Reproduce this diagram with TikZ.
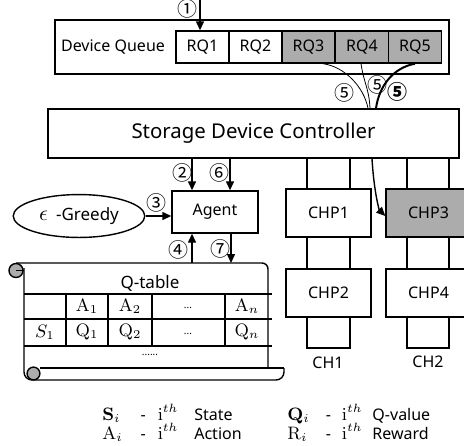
\documentclass[tikz,border=0pt]{standalone}
\usepackage[no-math]{fontspec}
\setmainfont{Noto Sans}
\newfontfamily\circfont{Noto Sans CJK SC}
\usetikzlibrary{arrows.meta, positioning, shapes.geometric}

\begin{document}
\begin{tikzpicture}[x=0.5pt, y=-0.5pt,
    box/.style={draw, line width=0.7pt, fill=white, align=center, font=\fontsize{8}{9.6}\selectfont},
    rqbox/.style={box, minimum width=26.5pt, minimum height=16pt, inner sep=0pt},
    chpbox/.style={box, minimum width=42.5pt, minimum height=24pt},
    busy/.style={fill=gray!65},
    num/.style={font=\circfont\fontsize{10}{11}\selectfont, inner sep=0pt},
    arrow/.style={line width=0.7pt, -{Triangle[length=4.5pt, width=4pt]}},
    cell/.style={font=\fontsize{9}{10}\selectfont, inner sep=0pt},
    legend/.style={anchor=west, inner sep=0pt, font=\fontsize{8}{9.6}\selectfont}
]
    \useasboundingbox (0,0) rectangle (464,445);

    % device queue
    \node[box, minimum width=197pt, minimum height=27pt] (dq) at (252,47) {};
    \node[font=\fontsize{8}{9.6}\selectfont] (dqlabel) at (113,47) {Device Queue};
    \node[rqbox] (rq1) at (202.5,47) {RQ1};
    \node[rqbox] (rq2) at (255.5,47) {RQ2};
    \node[rqbox, busy] (rq3) at (308.5,47) {RQ3};
    \node[rqbox, busy] (rq4) at (362,47) {RQ4};
    \node[rqbox, busy] (rq5) at (415,47) {RQ5};

    \coordinate (in) at (200,0);
    \draw[arrow] (in) -- (in |- rq1.north);
    \node[num] (n1) at (187,9) {①};

    % controller and channels
    \node[box, minimum width=205.5pt, minimum height=24.5pt, font=\fontsize{10.2}{12}\selectfont] (ctrl) at (253.5,133.5) {Storage Device Controller};

    \draw[line width=0.7pt] (307,158) -- (307,348) -- (350,348) -- (350,158);
    \draw[line width=0.7pt] (407,158) -- (407,348) -- (449,348) -- (449,158);
    \node[chpbox] (chp1) at (328.5,213) {CHP1};
    \node[chpbox] (chp2) at (328.5,293) {CHP2};
    \node[chpbox, busy] (chp3) at (428.5,213) {CHP3};
    \node[chpbox] (chp4) at (428.5,293) {CHP4};
    \node[font=\fontsize{8}{9.6}\selectfont] (ch1) at (328,363) {CH1};
    \node[font=\fontsize{8}{9.6}\selectfont] (ch2) at (428,362) {CH2};

    \draw[line width=0.4pt] ([xshift=7.25pt]rq3.south) .. controls +(22,3) and +(-4,-21) .. ([xshift=57.25pt]ctrl.north);
    \draw[line width=0.4pt] ([xshift=-0.5pt]rq4.south) .. controls +(3,20) and +(-1,-20) .. ([xshift=58.25pt]ctrl.north);
    \draw[line width=1pt] (rq5.south) .. controls +(-22,4) and +(3,-22) .. ([xshift=61.25pt]ctrl.north);
    \node[num] (n5a) at (344,93) {⑤};
    \node[num] (n5b) at (377,85) {⑤};
    \node[num, font=\circfont\bfseries\fontsize{10}{11}\selectfont] (n5c) at (397,92) {⑤};

    \draw[arrow] ([xshift=59.25pt]ctrl.south) .. controls +(2,34) and +(-6,-6) .. ([yshift=-1.5pt]chp3.west);

    % agent
    \node[box, minimum width=43pt, minimum height=21pt] (agent) at (215,212) {Agent};
    \node[ellipse, draw, line width=0.7pt, minimum width=65pt, minimum height=17pt, font=\fontsize{8.5}{10}\selectfont] (greedy) at (79,216) {{\fontsize{11}{11}\selectfont$\epsilon$}\hspace{4pt}-Greedy};

    \draw[arrow] ([xshift=-11.5pt]agent.north |- ctrl.south) -- ([xshift=-11.5pt]agent.north);
    \draw[arrow] ([xshift=7.5pt]agent.north |- ctrl.south) -- ([xshift=7.5pt]agent.north);
    \draw[arrow] (greedy.east) -- (greedy.east -| agent.west);
    \node[num] (n2) at (182,173) {②};
    \node[num] (n6) at (219,173) {⑥};
    \node[num] (n3) at (156,203) {③};

    % q-table scroll
    \coordinate (qtop) at (150,263);
    \draw[line width=0.7pt, rounded corners=3pt] (16,263) -- (268,263) -- (268,368);
    \draw[line width=0.7pt, rounded corners=4pt] (24,268) -- (24,380) -- (284,380) -- (284,368);
    \draw[line width=0.7pt] (40,368) -- (284,368);
    \filldraw[line width=0.7pt, fill=gray!65] (16,270.5) circle (3.5pt);
    \draw[line width=0.7pt] (16,270.5) -- (24,270.5);
    \filldraw[line width=0.7pt, fill=gray!65] (33.5,373.5) circle (3.2pt);

    \draw[arrow] ([xshift=-11.5pt]agent.south |- qtop) -- ([xshift=-11.5pt]agent.south);
    \draw[arrow] ([xshift=8pt]agent.south) -- ([xshift=8pt]agent.south |- qtop);
    \node[num] (n4) at (178,250) {④};
    \node[num] (n7) at (220,249) {⑦};

    \node[font=\fontsize{8.5}{10}\selectfont] (qtitle) at (150,283) {Q-table};
    \draw[line width=0.9pt] (24,294) -- (272,294) (24,319) -- (272,319) (24,346) -- (272,346);
    \draw[line width=0.9pt] (66,294) -- (66,346) (108,294) -- (108,346) (152,294) -- (152,346) (225,294) -- (225,346);
    \node[cell] (a1) at (87,306) {$\mathrm{A}_1$};
    \node[cell] (a2) at (130,306) {$\mathrm{A}_2$};
    \node[cell, font=\fontsize{5}{6}\selectfont] (adots) at (188,308) {...};
    \node[cell] (an) at (247,306) {$\mathrm{A}_n$};
    \node[cell] (s1) at (45,332) {$S_1$};
    \node[cell] (q1) at (87,332) {$\mathrm{Q}_1$};
    \node[cell] (q2) at (130,332) {$\mathrm{Q}_2$};
    \node[cell, font=\fontsize{5}{6}\selectfont] (qdots) at (188,334) {...};
    \node[cell] (qn) at (247,332) {$\mathrm{Q}_n$};
    \node[cell, font=\fontsize{5}{6}\selectfont] (rdots) at (150,355) {......};

    % legend
    \node[legend] (legleft) at (102,424) {\renewcommand{\arraystretch}{0.68}%
        \begin{tabular}{@{}l@{\hspace{9pt}}l@{\hspace{6pt}}l@{\hspace{8pt}}l@{}}
        {\fontsize{9}{9}\selectfont$\mathbf{S}_i$} & - & {\fontsize{9}{9}\selectfont$\mathrm{i}^{th}$} & State\\[-0.5pt]
        {\fontsize{9}{9}\selectfont$\mathrm{A}_i$} & - & {\fontsize{9}{9}\selectfont$\mathrm{i}^{th}$} & Action
        \end{tabular}};
    \node[legend] (legright) at (287,424) {\renewcommand{\arraystretch}{0.68}%
        \begin{tabular}{@{}l@{\hspace{8pt}}l@{\hspace{5.5pt}}l@{\hspace{5pt}}l@{}}
        {\fontsize{9}{9}\selectfont$\mathbf{Q}_i$} & - & {\fontsize{9}{9}\selectfont$\mathrm{i}^{th}$} & Q-value\\[-0.5pt]
        {\fontsize{9}{9}\selectfont$\mathrm{R}_i$} & - & {\fontsize{9}{9}\selectfont$\mathrm{i}^{th}$} & Reward
        \end{tabular}};
\end{tikzpicture}
\end{document}
